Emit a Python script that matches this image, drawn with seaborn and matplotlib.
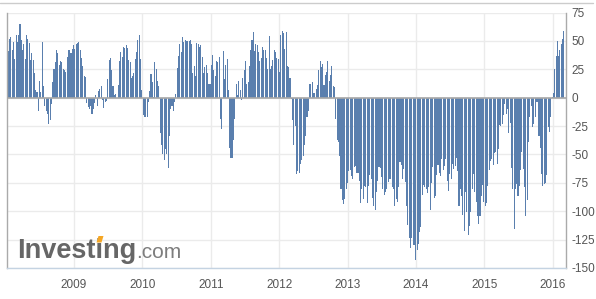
import numpy as np
import pandas as pd
import matplotlib
matplotlib.use("Agg")
import matplotlib.pyplot as plt
import seaborn as sns
from matplotlib.lines import Line2D
from matplotlib.patches import Polygon

# weekly net positions, one list per calendar year
v2008 = [36, 41, 52, 53, 42, 49, 34, 55, 49, 55, 65, 51, 42, 47, 34, 55, 52, 48, 33, 39,
         33, 22, 7, 5, -12, 15, 5, 49, 10, -7, -12, -14, -23, -20, -6, 14, 25, 31, 42, 39,
         29, 32, 31, 25, 24, 23, 36, 42, 42, 39, 43, 46]
v2009 = [43, 47, 48, 49, 42, 35, 28, 19, 18, -5, -8, -10, -7, -14, -10, -5, 2, -7, 6, 8,
         10, -2, -9, -4, -3, 16, 33, 35, 24, 10, 2, 3, 0, 11, 32, 40, 36, 45, 44, 46,
         44, 33, 31, 17, 19, 22, 34, 40, 51, 55, 34, 7]
v2010 = [-15, -17, -17, -17, -4, 6, 21, 14, 1, 31, 25, 15, 10, -31, -42, -50, -55, -45, -50, -62,
         -34, -10, -7, -12, -4, 3, 26, 37, 47, 40, 53, 49, 51, 50, 50, 50, 51, 47, 22, 28,
         19, 48, 47, 45, 46, 36, 22, 27, 29, 22, 12, 12]
v2011 = [29, 38, 24, 19, 32, 31, 36, -19, -28, 41, 16, 29, 34, 7, -44, -53, -53, -37, -19, 12,
         2, 15, 7, -2, 17, 24, 32, 12, 14, 28, 42, 51, 58, 41, 47, 46, 40, 32, 35, 45,
         42, 42, 35, 25, 54, 25, 28, 33, 42, 40, 35, 34]
v2012 = [23, 55, 59, 57, 43, 58, 28, 27, 17, -1, -20, -42, -25, -67, -65, -66, -58, -55, -51, -42,
         -34, -17, -12, 12, 12, 14, 4, 4, 8, 11, 24, 32, 27, 30, 11, 20, 23, 32, 15, 20,
         28, 10, 9, -19, -37, -39, -51, -80, -90, -94, -89, -80]
v2013 = [-75, -65, -64, -69, -72, -61, -60, -66, -66, -73, -93, -80, -89, -78, -79, -93, -78, -68, -72, -88,
         -95, -99, -83, -73, -61, -62, -70, -80, -86, -83, -80, -74, -72, -72, -79, -80, -95, -89, -92, -79,
         -57, -59, -72, -63, -74, -95, -112, -124, -132, -124, -130, -130]
v2014 = [-143, -134, -129, -118, -114, -86, -77, -79, -80, -84, -79, -99, -75, -61, -88, -87, -68, -59, -66, -69,
         -54, -64, -60, -54, -73, -82, -67, -72, -58, -63, -60, -53, -65, -95, -80, -87, -103, -117, -83, -101,
         -121, -113, -101, -80, -67, -83, -92, -104, -111, -104, -87, -77]
v2015 = [-92, -95, -93, -78, -64, -56, -54, -59, -49, -48, -58, -45, -24, -25, -23, -15, -6, -14, -10, -31,
         -22, -62, -80, -116, -80, -76, -87, -78, -64, -48, -63, -79, -104, -90, -39, -17, -7, -26, -23, -17,
         -4, -4, -34, -44, -67, -78, -76, -75, -68, -26, -30, -17]
v2016 = [1, 4, 25, 37, 50, 37, 42, 47, 52, 59]

year_ticks = [2009, 2010, 2011, 2012, 2013, 2014, 2015, 2016]
year_labels = [str(y) for y in year_ticks]
y_ticks = [-150, -125, -100, -75, -50, -25, 0, 25, 50, 75]

values = v2008 + v2009 + v2010 + v2011 + v2012 + v2013 + v2014 + v2015 + v2016
dates = pd.date_range("2008-01-08", periods=len(values), freq="7D")
days_in_year = np.where(dates.is_leap_year, 366.0, 365.0)
xpos = dates.year + (dates.dayofyear - 1) / days_in_year
df = pd.DataFrame({"x": np.asarray(xpos, dtype=float), "v": values})

sns.set_theme(style="white")
plt.rcParams['font.family'] = ['Liberation Sans', 'DejaVu Sans']

W, H = 596, 299
fig = plt.figure(figsize=(W / 100, H / 100), dpi=100)
ax = fig.add_axes([7 / W, 31 / H, 559 / W, 255.5 / H])

sns.barplot(data=df, x="x", y="v", native_scale=True, color="#5a7fae",
            saturation=1, width=0.8, errorbar=None, ax=ax,
            edgecolor="none", linewidth=0, zorder=2)

ax.set_xlim(2008.02, 2016.195)
ax.set_ylim(-150, 75)
ax.set_xticks(year_ticks)
ax.set_xticklabels(year_labels)
ax.set_yticks(y_ticks)
ax.set_yticklabels([str(t) for t in y_ticks])
ax.yaxis.tick_right()
ax.set_xlabel("")
ax.set_ylabel("")
ax.tick_params(axis='both', length=0, labelsize=8.5, labelcolor='#555555')
ax.tick_params(axis='x', pad=8)
ax.tick_params(axis='y', pad=4)
ax.grid(True, color='#ebebeb', lw=1)
ax.set_axisbelow(True)
ax.axhline(0, color='#a8a8a8', lw=1.2, zorder=3)

ax.spines['top'].set_visible(False)
for s in ['left', 'right']:
    ax.spines[s].set_color('#aaaaaa')
    ax.spines[s].set_linewidth(1)
ax.spines['bottom'].set_color('#c4d3e2')
ax.spines['bottom'].set_linewidth(1)

# top frame line of the widget
fig.add_artist(Line2D([0, 593 / W], [1 - 2.5 / H] * 2, color='#cccccc', lw=1,
                      transform=fig.transFigure))

# watermark
t1 = fig.text(17 / W, 1 - 258 / H, "Investing", fontsize=19.5, fontweight='bold',
              color='#666666', va='baseline', ha='left', zorder=5)
fig.canvas.draw()
bb = t1.get_window_extent()
fig.text(bb.x1 / W, 1 - 258 / H, ".com", fontsize=15, color='#7d7d7d',
         va='baseline', ha='left', zorder=5)
# orange accent on the i-dot of the logo
dot = [(96.5, 242.5), (101.5, 242.5), (103.5, 236), (98.5, 236)]
fig.add_artist(Polygon([(px / W, 1 - py / H) for px, py in dot], closed=True,
                       facecolor='#f5a623', edgecolor='none',
                       transform=fig.transFigure, zorder=6))

fig.savefig("out.png", dpi=100)
